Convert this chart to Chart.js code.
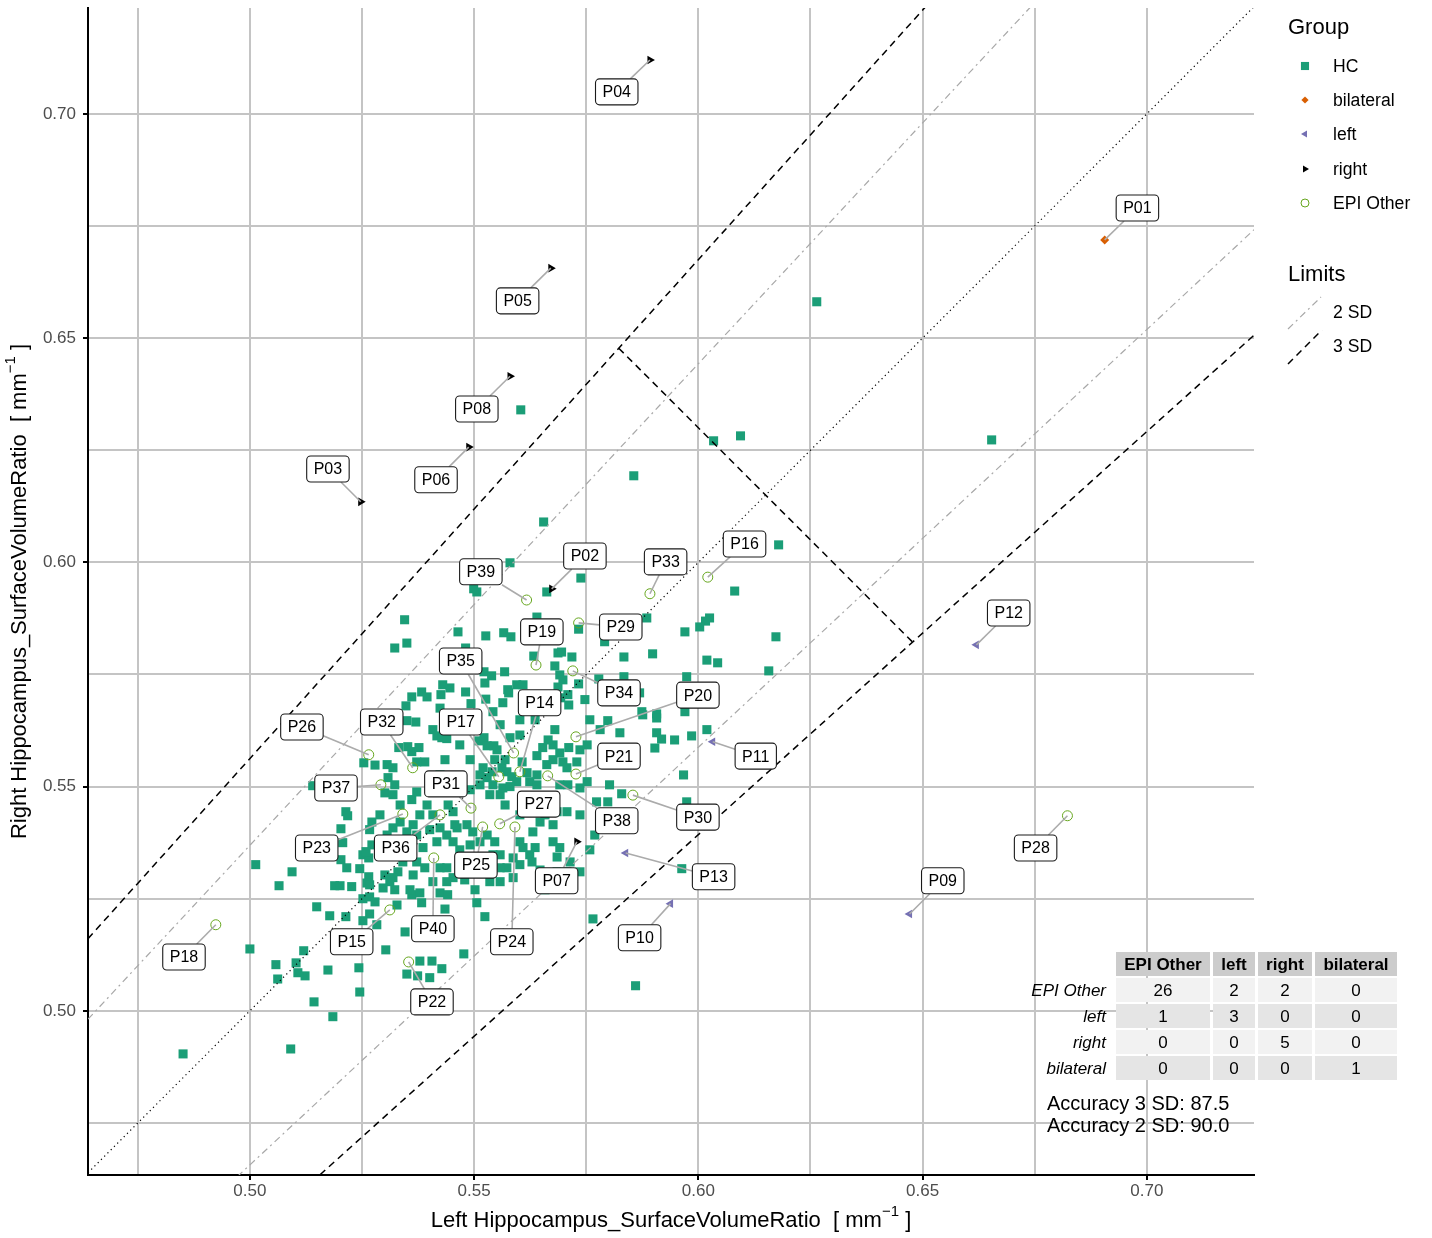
<!DOCTYPE html>
<html>
<head>
<meta charset="utf-8">
<script src="https://cdn.jsdelivr.net/npm/chart.js@4/dist/chart.umd.min.js"></script>
<style>
  html, body { margin: 0; padding: 0; background: #fff; }
  #wrap { width: 1432px; height: 1238px; position: relative; }
</style>
</head>
<body>
<div id="wrap"><canvas id="c" width="1432" height="1238"></canvas></div>
<script>
// Axis ranges (surface/volume ratio, mm^-1)
const xRange = [0.4639, 0.7239];
const yRange = [0.4634, 0.7236];

// Limits: right/left ratio bounds (log-ratio +/- 2 SD and 3 SD)
const ratio2SD = [0.9313, 1.0738];
const ratio3SD = [0.8988, 1.1125];
// Sum cut-off closing the 3 SD band (left + right)
const sumCut = 1.23;

// Healthy controls: [left, right]
const hcPoints = [
  [0.5604,0.6340],[0.5856,0.6193],[0.6034,0.6271],[0.6094,0.6282],[0.6264,0.6581],[0.6654,0.6273],
  [0.5655,0.6090],[0.6179,0.6039],[0.6081,0.5936],[0.5580,0.5999],[0.5506,0.5934],[0.5499,0.5941],
  [0.5662,0.5934],[0.5738,0.5965],[0.5345,0.5872],[0.5350,0.5820],[0.5323,0.5809],[0.5464,0.5845],
  [0.5526,0.5836],[0.5566,0.5843],[0.5582,0.5834],[0.5640,0.5878],[0.5733,0.5851],[0.5633,0.5791],
  [0.5687,0.5798],[0.5695,0.5800],[0.5718,0.5789],[0.5680,0.5769],[0.5691,0.5749],[0.5698,0.5738],
  [0.5733,0.5729],[0.5481,0.5809],[0.5522,0.5756],[0.5539,0.5747],[0.5568,0.5756],[0.5524,0.5731],
  [0.5575,0.5716],[0.5577,0.5709],[0.5595,0.5727],[0.5609,0.5727],[0.5481,0.5711],[0.5526,0.5695],
  [0.5542,0.5667],[0.5564,0.5687],[0.5493,0.5685],[0.5430,0.5727],[0.5446,0.5720],[0.5426,0.5705],
  [0.5383,0.5711],[0.5395,0.5700],[0.5361,0.5700],[0.5348,0.5680],[0.5424,0.5675],[0.5693,0.5698],
  [0.5711,0.5682],[0.5709,0.5705],[0.5687,0.5722],
  [0.5885,0.5876],[0.6025,0.5876],[0.6016,0.5869],[0.6003,0.5856],[0.5970,0.5845],[0.6173,0.5834],
  [0.5791,0.5823],[0.5834,0.5789],[0.5898,0.5796],[0.6019,0.5782],[0.6043,0.5776],[0.6157,0.5758],
  [0.5778,0.5740],[0.5834,0.5745],[0.5974,0.5745],[0.5869,0.5709],[0.5874,0.5667],[0.5907,0.5662],
  [0.5970,0.5667],
  [0.5798,0.5647],[0.5825,0.5620],[0.5876,0.5660],[0.5907,0.5653],[0.5907,0.5620],[0.5918,0.5606],
  [0.5947,0.5604],[0.5985,0.5613],[0.6019,0.5627],[0.5903,0.5586],[0.5967,0.5526],[0.5802,0.5504],
  [0.5829,0.5484],[0.5773,0.5466],[0.5798,0.5466],[0.5974,0.5466],[0.5963,0.5317],[0.5765,0.5205],
  [0.5860,0.5056],
  [0.5361,0.5259],[0.5379,0.5263],[0.5424,0.5263],[0.5441,0.5259],[0.5383,0.5241],[0.5328,0.5236],
  [0.5506,0.5241],[0.5435,0.5227],[0.5524,0.5210],[0.5346,0.5176],[0.5303,0.5136],[0.5477,0.5127],
  [0.5379,0.5111],[0.5406,0.5111],[0.5428,0.5094],[0.5350,0.5082],[0.5374,0.5078],[0.5401,0.5074],
  [0.5149,0.5232],[0.5178,0.5212],[0.5214,0.5210],[0.5252,0.5201],[0.5267,0.5216],[0.5283,0.5192],
  [0.5252,0.5250],[0.5267,0.5254],[0.5279,0.5243],[0.5000,0.5138],[0.5120,0.5134],[0.5058,0.5103],
  [0.5103,0.5107],[0.5062,0.5071],[0.5107,0.5085],[0.5123,0.5078],[0.5174,0.5091],[0.5243,0.5096],
  [0.5245,0.5042],[0.5143,0.5020],[0.5185,0.4987],[0.4851,0.4904],[0.5091,0.4915],
  [0.5254,0.5553],[0.5279,0.5548],[0.5140,0.5502],[0.5214,0.5444],[0.5218,0.5435],[0.5203,0.5406],
  [0.5207,0.5375],[0.5272,0.5421],[0.5267,0.5404],[0.5272,0.5370],[0.5203,0.5337],[0.5216,0.5319],
  [0.5252,0.5348],[0.5265,0.5341],[0.5259,0.5355],[0.5245,0.5317],[0.5265,0.5299],[0.5013,0.5326],
  [0.5094,0.5310],[0.5065,0.5279],[0.5189,0.5279],[0.5201,0.5279],[0.5227,0.5277],[0.5261,0.5285],
  [0.5267,0.5281],
  [0.5350,0.5647],[0.5370,0.5644],[0.5408,0.5627],[0.5417,0.5613],[0.5428,0.5609],[0.5439,0.5607],
  [0.5511,0.5602],[0.5522,0.5609],[0.5529,0.5591],[0.5544,0.5591],[0.5551,0.5582],[0.5580,0.5609],
  [0.5602,0.5615],[0.5640,0.5569],[0.5653,0.5587],[0.5676,0.5593],[0.5691,0.5575],[0.5711,0.5587],
  [0.5736,0.5582],[0.5752,0.5593],[0.5361,0.5578],[0.5377,0.5587],[0.5390,0.5555],[0.5372,0.5555],
  [0.5352,0.5589],[0.5306,0.5549],[0.5319,0.5542],[0.5308,0.5520],[0.5323,0.5504],[0.5301,0.5486],
  [0.5319,0.5482],[0.5335,0.5459],[0.5361,0.5471],[0.5372,0.5488],[0.5395,0.5459],[0.5408,0.5437],
  [0.5442,0.5459],[0.5453,0.5444],[0.5513,0.5504],[0.5529,0.5520],[0.5542,0.5504],[0.5535,0.5482],
  [0.5558,0.5482],[0.5564,0.5497],[0.5513,0.5526],[0.5520,0.5542],[0.5540,0.5533],[0.5562,0.5542],
  [0.5573,0.5533],[0.5584,0.5522],[0.5595,0.5511],[0.5580,0.5500],[0.5618,0.5531],[0.5624,0.5511],
  [0.5640,0.5504],[0.5640,0.5526],[0.5662,0.5549],[0.5676,0.5560],[0.5698,0.5555],[0.5707,0.5542],
  [0.5729,0.5555],[0.5691,0.5504],[0.5709,0.5504],[0.5736,0.5497],[0.5752,0.5511],[0.5640,0.5471],
  [0.5669,0.5459],[0.5685,0.5444],[0.5707,0.5444],[0.5736,0.5437],[0.5462,0.5408],[0.5484,0.5415],
  [0.5497,0.5399],[0.5513,0.5377],[0.5529,0.5392],[0.5546,0.5377],[0.5558,0.5348],[0.5542,0.5348],
  [0.5424,0.5408],[0.5439,0.5392],[0.5453,0.5377],[0.5417,0.5377],[0.5364,0.5415],[0.5350,0.5399],
  [0.5372,0.5392],[0.5335,0.5421],[0.5319,0.5408],[0.5306,0.5392],[0.5386,0.5364],[0.5357,0.5348],
  [0.5341,0.5332],[0.5372,0.5332],[0.5390,0.5319],[0.5364,0.5303],[0.5330,0.5310],[0.5319,0.5297],
  [0.5424,0.5319],[0.5439,0.5319],[0.5453,0.5297],[0.5439,0.5288],[0.5408,0.5288],[0.5301,0.5303],
  [0.5312,0.5288],[0.5297,0.5274],[0.5602,0.5377],[0.5609,0.5364],[0.5624,0.5348],[0.5629,0.5332],
  [0.5602,0.5326],[0.5587,0.5341],[0.5573,0.5319],[0.5676,0.5377],[0.5691,0.5364],[0.5685,0.5343],
  [0.5558,0.5319],[0.5535,0.5310],[0.5558,0.5288],[0.5535,0.5288],[0.5587,0.5297],[0.5636,0.5364],
  [0.5631,0.5399],[0.5647,0.5421],[0.5676,0.5415],[0.5714,0.5332],[0.5685,0.5310],[0.5707,0.5310],
  [0.5736,0.5310],
  [0.5491,0.5560],[0.5546,0.5560],[0.5607,0.5555],[0.5491,0.5493],[0.5569,0.5459],[0.5457,0.5493],
  [0.5468,0.5359],[0.5491,0.5337],[0.5401,0.5493],[0.5346,0.5370],[0.5457,0.5415],[0.5491,0.5370],
  [0.5636,0.5649],[0.5658,0.5671],[0.5680,0.5627],[0.5758,0.5649],[0.5781,0.5627],[0.5665,0.5604],
  [0.5747,0.5694],[0.5332,0.5587],[0.5308,0.5638],[0.5468,0.5593],[0.5479,0.5627],[0.5502,0.5644],
  [0.5558,0.5638],[0.5602,0.5649],[0.5435,0.5560],[0.5424,0.5526],[0.5401,0.5404],[0.5379,0.5437],
  [0.5290,0.5437],[0.5290,0.5359],[0.5323,0.5270],[0.5357,0.5270],[0.5479,0.5292],[0.5502,0.5270],
  [0.5647,0.5314],[0.5658,0.5270],[0.5758,0.5359],[0.5769,0.5392],[0.5602,0.5437],[0.5658,0.5437],
  [0.5569,0.5560]
];

// Patients
const patientIds = ['P01','P02','P03','P04','P05','P06','P07','P08','P09','P10',
  'P11','P12','P13','P14','P15','P16','P17','P18','P19','P20',
  'P21','P22','P23','P24','P25','P26','P27','P28','P29','P30',
  'P31','P32','P33','P34','P35','P36','P37','P38','P39','P40'];
const patientGroup = ['bilateral','right','right','right','right','right','right','right','left','left',
  'left','left','left','EPI Other','EPI Other','EPI Other','EPI Other','EPI Other','EPI Other','EPI Other',
  'EPI Other','EPI Other','EPI Other','EPI Other','EPI Other','EPI Other','EPI Other','EPI Other','EPI Other','EPI Other',
  'EPI Other','EPI Other','EPI Other','EPI Other','EPI Other','EPI Other','EPI Other','EPI Other','EPI Other','EPI Other'];
const patientLeft = [0.6906,0.5673,0.5247,0.5892,0.5671,0.5488,0.5729,0.5580,0.6471,0.5938,
  0.6032,0.6620,0.5838,0.5602,0.5312,0.6021,0.5555,0.4924,0.5638,0.5727,
  0.5727,0.5354,0.5341,0.5591,0.5519,0.5265,0.5557,0.6823,0.5733,0.5854,
  0.5493,0.5363,0.5892,0.5720,0.5588,0.5424,0.5292,0.5664,0.5617,0.5410];
const patientRight = [0.6719,0.5941,0.6135,0.7120,0.6656,0.6257,0.5377,0.6415,0.5216,0.5239,
  0.5600,0.5816,0.5352,0.5533,0.5225,0.5967,0.5522,0.5192,0.5771,0.5611,
  0.5528,0.5109,0.5439,0.5410,0.5410,0.5571,0.5417,0.5435,0.5865,0.5481,
  0.5452,0.5542,0.5930,0.5758,0.5575,0.5437,0.5504,0.5524,0.5916,0.5341];
// Repelled label anchors (data units)
const labelLeft = [0.6979,0.5747,0.5174,0.5818,0.5597,0.5415,0.5684,0.5506,0.6545,0.5869,
  0.6128,0.6692,0.6034,0.5646,0.5227,0.6103,0.5470,0.4853,0.5651,0.5999,
  0.5823,0.5406,0.5149,0.5584,0.5504,0.5116,0.5644,0.6752,0.5827,0.5999,
  0.5437,0.5294,0.5927,0.5823,0.5470,0.5325,0.5192,0.5818,0.5515,0.5408];
const labelRight = [0.6790,0.6014,0.6208,0.7049,0.6583,0.6184,0.5290,0.6342,0.5290,0.5163,
  0.5568,0.5887,0.5299,0.5687,0.5154,0.6041,0.5644,0.5120,0.5845,0.5704,
  0.5568,0.5020,0.5363,0.5154,0.5325,0.5633,0.5461,0.5363,0.5856,0.5432,
  0.5506,0.5644,0.6001,0.5709,0.5780,0.5363,0.5497,0.5424,0.5979,0.5183];

// Confusion table (rows: predicted, columns: group)
const tableClasses = ['EPI Other','left','right','bilateral'];
const tableCounts = [[26,2,2,0],[1,3,0,0],[0,0,5,0],[0,0,0,1]];
const accuracy3SD = '87.5';
const accuracy2SD = '90.0';

const FONT = '"Liberation Sans", Arial, Helvetica, sans-serif';
const groupStyle = {
  'EPI Other': { pointStyle: 'circle', radius: 5, bg: 'rgba(0,0,0,0)', border: '#66a61e', bw: 1 },
  'left':      { pointStyle: 'triangle', radius: 5, rotation: -90, bg: '#7570b3', border: '#7570b3', bw: 0 },
  'right':     { pointStyle: 'triangle', radius: 5, rotation: 90, bg: '#000000', border: '#000000', bw: 0 },
  'bilateral': { pointStyle: 'rectRot', radius: 4.5, bg: '#d95f02', border: '#d95f02', bw: 0 }
};

function patientDataset(g, order) {
  const s = groupStyle[g];
  const data = [];
  patientIds.forEach((id, i) => { if (patientGroup[i] === g) data.push({ x: patientLeft[i], y: patientRight[i] }); });
  return {
    label: g, data, order,
    pointStyle: s.pointStyle, pointRadius: s.radius, pointHoverRadius: s.radius,
    pointRotation: s.rotation || 0,
    backgroundColor: s.bg, borderColor: s.border, borderWidth: s.bw
  };
}

function ratioLine(r) {
  return [{ x: xRange[0], y: xRange[0] * r }, { x: xRange[1], y: xRange[1] * r }];
}
function refLine(data, color, dash, width) {
  return { type: 'line', data, borderColor: color, borderDash: dash, borderWidth: width,
           pointRadius: 0, fill: false, showLine: true, order: 1, tension: 0 };
}
const sumCutLine = [
  { x: sumCut / (1 + ratio3SD[1]), y: sumCut * ratio3SD[1] / (1 + ratio3SD[1]) },
  { x: sumCut / (1 + ratio3SD[0]), y: sumCut * ratio3SD[0] / (1 + ratio3SD[0]) }
];

const isMajor = v => Math.abs(v * 20 - Math.round(v * 20)) < 1e-6;

// Patient labels with leader segments
const labelPlugin = {
  id: 'patientLabels',
  afterDatasetsDraw(chart) {
    const { ctx, scales: { x, y } } = chart;
    ctx.save();
    ctx.font = '16px ' + FONT;
    const boxes = patientIds.map((id, i) => {
      const px = x.getPixelForValue(patientLeft[i]), py = y.getPixelForValue(patientRight[i]);
      const lx = x.getPixelForValue(labelLeft[i]), ly = y.getPixelForValue(labelRight[i]);
      const w = ctx.measureText(id).width + 14, h = 26;
      return { id, px, py, lx, ly, w, h };
    });
    ctx.strokeStyle = '#ababab';
    ctx.lineWidth = 1.6;
    boxes.forEach(b => {
      const dx = b.px - b.lx, dy = b.py - b.ly;
      const tx = dx !== 0 ? Math.abs((b.w / 2) / dx) : Infinity;
      const ty = dy !== 0 ? Math.abs((b.h / 2) / dy) : Infinity;
      const t = Math.min(tx, ty);
      if (t < 1) {
        ctx.beginPath();
        ctx.moveTo(b.px, b.py);
        ctx.lineTo(b.lx + dx * t, b.ly + dy * t);
        ctx.stroke();
      }
    });
    boxes.forEach(b => {
      const x0 = b.lx - b.w / 2, y0 = b.ly - b.h / 2;
      ctx.beginPath();
      ctx.roundRect(x0, y0, b.w, b.h, 4);
      ctx.fillStyle = '#ffffff';
      ctx.fill();
      ctx.strokeStyle = '#1a1a1a';
      ctx.lineWidth = 1.1;
      ctx.stroke();
      ctx.fillStyle = '#000000';
      ctx.textAlign = 'center';
      ctx.textBaseline = 'middle';
      ctx.fillText(b.id, b.lx, b.ly + 1);
    });
    ctx.restore();
  }
};

function drawMarker(ctx, g, cx, cy, scale) {
  const s = groupStyle[g] || null;
  ctx.save();
  if (g === 'HC') {
    ctx.fillStyle = '#1b9e77';
    ctx.fillRect(cx - 4.5 * scale, cy - 4.5 * scale, 9 * scale, 9 * scale);
  } else if (g === 'EPI Other') {
    ctx.beginPath(); ctx.arc(cx, cy, 5 * scale, 0, Math.PI * 2);
    ctx.strokeStyle = s.border; ctx.lineWidth = 1; ctx.stroke();
  } else if (g === 'left' || g === 'right') {
    const r = 5 * scale, dir = g === 'right' ? 1 : -1;
    ctx.beginPath();
    ctx.moveTo(cx + dir * r, cy);
    ctx.lineTo(cx - dir * r * 0.5, cy - r * 0.866);
    ctx.lineTo(cx - dir * r * 0.5, cy + r * 0.866);
    ctx.closePath();
    ctx.fillStyle = s.bg; ctx.fill();
  } else if (g === 'bilateral') {
    const r = 4.5 * scale;
    ctx.beginPath();
    ctx.moveTo(cx, cy - r); ctx.lineTo(cx + r, cy); ctx.lineTo(cx, cy + r); ctx.lineTo(cx - r, cy);
    ctx.closePath(); ctx.fillStyle = s.bg; ctx.fill();
  }
  ctx.restore();
}

function drawRich(ctx, cx, cy, angle, parts) {
  ctx.save();
  ctx.translate(cx, cy);
  ctx.rotate(angle);
  let total = 0;
  parts.forEach(p => { ctx.font = p.font; p.w = ctx.measureText(p.text).width; total += p.w; });
  let xx = -total / 2;
  ctx.textAlign = 'left';
  ctx.textBaseline = 'middle';
  ctx.fillStyle = '#000';
  parts.forEach(p => { ctx.font = p.font; ctx.fillText(p.text, xx, p.dy || 0); xx += p.w; });
  ctx.restore();
}

const decorPlugin = {
  id: 'decor',
  afterDraw(chart) {
    const { ctx, chartArea: a } = chart;
    // Axis titles
    const cxMid = (a.left + a.right) / 2, cyMid = (a.top + a.bottom) / 2;
    drawRich(ctx, cxMid, 1221, 0, [
      { text: 'Left Hippocampus_SurfaceVolumeRatio  [ mm', font: '22px ' + FONT },
      { text: '\u22121', font: '15px ' + FONT, dy: -9 },
      { text: ' ]', font: '22px ' + FONT }
    ]);
    drawRich(ctx, 20, cyMid, -Math.PI / 2, [
      { text: 'Right Hippocampus_SurfaceVolumeRatio  [ mm', font: '22px ' + FONT },
      { text: '\u22121', font: '15px ' + FONT, dy: -9 },
      { text: ' ]', font: '22px ' + FONT }
    ]);

    // Legend
    ctx.save();
    ctx.fillStyle = '#000';
    ctx.textAlign = 'left';
    ctx.textBaseline = 'middle';
    ctx.font = '22px ' + FONT;
    ctx.fillText('Group', 1288, 28);
    const groups = ['HC', 'bilateral', 'left', 'right', 'EPI Other'];
    const gy = [66, 100, 134, 169, 203];
    groups.forEach((g, i) => {
      drawMarker(ctx, g, 1305, gy[i], g === 'HC' ? 0.9 : 0.8);
      ctx.font = '17.6px ' + FONT;
      ctx.fillStyle = '#000';
      ctx.fillText(g, 1333, gy[i] + 1);
    });
    ctx.font = '22px ' + FONT;
    ctx.fillText('Limits', 1288, 275);
    ctx.lineWidth = 1.2;
    ctx.strokeStyle = '#a8a8a8';
    ctx.setLineDash([7, 4, 2, 4]);
    ctx.beginPath(); ctx.moveTo(1288, 329); ctx.lineTo(1321, 297); ctx.stroke();
    ctx.strokeStyle = '#000';
    ctx.lineWidth = 1.5;
    ctx.setLineDash([7, 5]);
    ctx.beginPath(); ctx.moveTo(1288, 364); ctx.lineTo(1322, 330); ctx.stroke();
    ctx.setLineDash([]);
    ctx.font = '17.6px ' + FONT;
    ctx.fillText('2 SD', 1333, 313);
    ctx.fillText('3 SD', 1333, 347);

    // Confusion table
    const colX = [1116, 1213, 1258, 1315];
    const colW = [94, 42, 54, 82];
    const rowY = [952, 978, 1004, 1030, 1056];
    const rowH = 24;
    ctx.textAlign = 'center';
    for (let c = 0; c < 4; c++) {
      ctx.fillStyle = '#cccccc';
      ctx.fillRect(colX[c], rowY[0], colW[c], rowH);
      ctx.fillStyle = '#000';
      ctx.font = 'bold 17px ' + FONT;
      ctx.fillText(tableClasses[c], colX[c] + colW[c] / 2, rowY[0] + rowH / 2 + 1);
    }
    for (let r = 0; r < 4; r++) {
      for (let c = 0; c < 4; c++) {
        ctx.fillStyle = r % 2 === 0 ? '#f2f2f2' : '#e5e5e5';
        ctx.fillRect(colX[c], rowY[r + 1], colW[c], rowH);
        ctx.fillStyle = '#000';
        ctx.font = '17px ' + FONT;
        ctx.textAlign = 'center';
        ctx.fillText(String(tableCounts[r][c]), colX[c] + colW[c] / 2, rowY[r + 1] + rowH / 2 + 1);
      }
      ctx.font = 'italic 17px ' + FONT;
      ctx.textAlign = 'right';
      ctx.fillText(tableClasses[r], 1106, rowY[r + 1] + rowH / 2 + 1);
    }
    ctx.textAlign = 'left';
    ctx.font = '20px ' + FONT;
    ctx.fillText('Accuracy 3 SD: ' + accuracy3SD, 1047, 1104);
    ctx.fillText('Accuracy 2 SD: ' + accuracy2SD, 1047, 1126);
    ctx.restore();
  }
};

const axisCommon = {
  type: 'linear',
  grid: {
    color: '#c4c4c4',
    lineWidth: 2,
    drawTicks: true,
    tickLength: 5,
    tickWidth: 2,
    tickColor: ctx => (ctx.tick && isMajor(ctx.tick.value)) ? '#000000' : 'rgba(0,0,0,0)'
  },
  border: { display: true, color: '#000000', width: 2 },
  ticks: {
    stepSize: 0.025,
    includeBounds: false,
    autoSkip: false,
    maxTicksLimit: 100,
    maxRotation: 0,
    color: '#4d4d4d',
    font: { family: FONT, size: 17 },
    callback: v => isMajor(v) ? v.toFixed(2) : ''
  }
};

new Chart(document.getElementById('c'), {
  type: 'scatter',
  data: {
    datasets: [
      {
        label: 'HC',
        data: hcPoints.map(p => ({ x: p[0], y: p[1] })),
        order: 5,
        pointStyle: 'rect', pointRadius: 6.4, pointHoverRadius: 6.4,
        backgroundColor: '#1b9e77', borderColor: '#1b9e77', borderWidth: 0
      },
      patientDataset('EPI Other', 4),
      patientDataset('left', 3),
      patientDataset('right', 3),
      patientDataset('bilateral', 3),
      refLine([{ x: xRange[0], y: xRange[0] }, { x: xRange[1], y: xRange[1] }], '#000000', [1.2, 3.4], 1.2),
      refLine(ratioLine(ratio2SD[0]), '#a8a8a8', [7, 4, 2, 4], 1.2),
      refLine(ratioLine(ratio2SD[1]), '#a8a8a8', [7, 4, 2, 4], 1.2),
      refLine(ratioLine(ratio3SD[0]), '#000000', [7, 5], 1.5),
      refLine(ratioLine(ratio3SD[1]), '#000000', [7, 5], 1.5),
      refLine(sumCutLine, '#000000', [7, 5], 1.5)
    ]
  },
  options: {
    responsive: false,
    animation: false,
    events: [],
    layout: { padding: { left: 0, right: 178, top: 8, bottom: 0 } },
    plugins: { legend: { display: false }, tooltip: { enabled: false }, title: { display: false } },
    scales: {
      x: Object.assign({}, axisCommon, {
        min: xRange[0], max: xRange[1],
        ticks: Object.assign({}, axisCommon.ticks, { padding: 1 }),
        afterFit: s => { s.height = 63; s.paddingLeft = 0; s.paddingRight = 0; }
      }),
      y: Object.assign({}, axisCommon, {
        min: yRange[0], max: yRange[1],
        ticks: Object.assign({}, axisCommon.ticks, { padding: 7 }),
        afterFit: s => { s.width = 88; s.paddingTop = 0; s.paddingBottom = 0; }
      })
    }
  },
  plugins: [labelPlugin, decorPlugin]
});
</script>
</body>
</html>
